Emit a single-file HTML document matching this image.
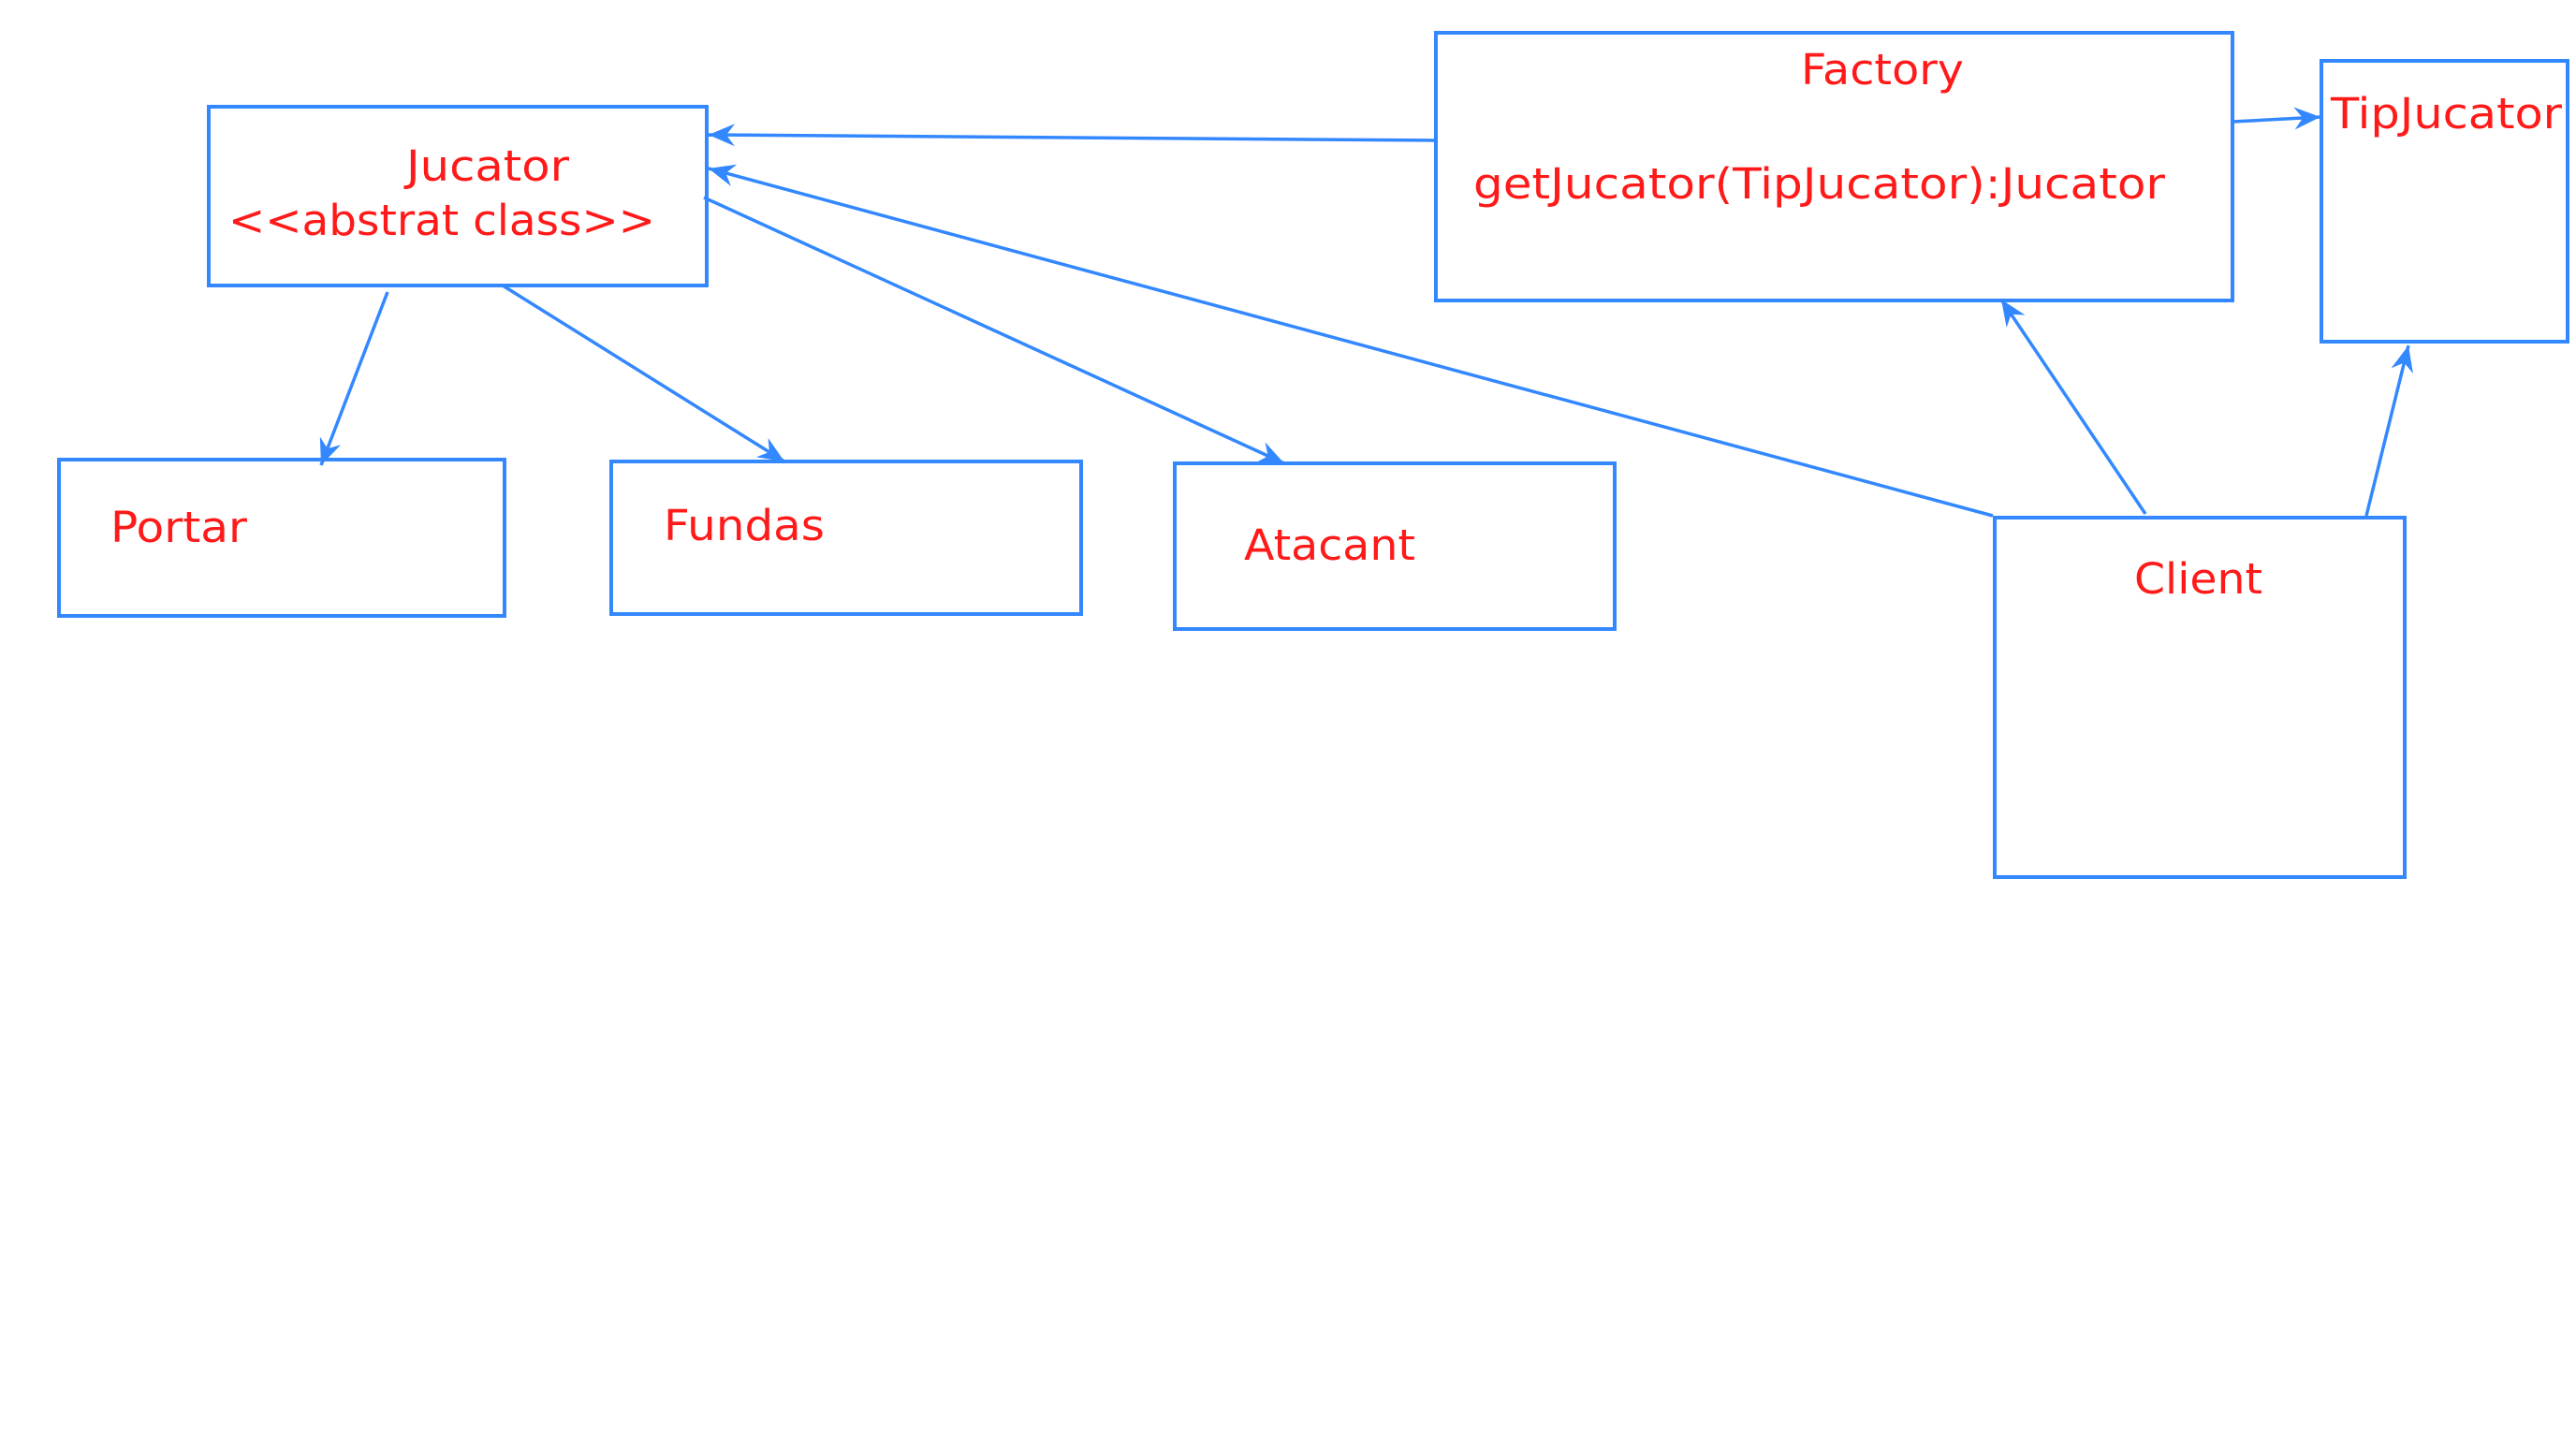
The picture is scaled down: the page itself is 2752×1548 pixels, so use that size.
<!DOCTYPE html>
<html><head><meta charset="utf-8"><style>
html,body{margin:0;padding:0;background:#fff;}
svg{display:block;}
text{font-family:"DejaVu Sans","Liberation Sans",sans-serif;font-size:45px;fill:#ff1a1a;}
</style></head><body>
<svg width="2752" height="1548" viewBox="0 0 2752 1548" xmlns="http://www.w3.org/2000/svg">
<defs>
<marker id="a" markerWidth="30" markerHeight="24" refX="28" refY="12" orient="auto" markerUnits="userSpaceOnUse">
<path d="M0,0 L28,12 L0,24 L9,12 Z" fill="#3388ff"/>
</marker>
</defs>
<g fill="none" stroke="#3388ff" stroke-width="4">
<rect x="223" y="114" width="532" height="191"/>
<rect x="63" y="491" width="476" height="167"/>
<rect x="653" y="493" width="502" height="163"/>
<rect x="1255" y="495" width="470" height="177"/>
<rect x="1534" y="35" width="851" height="286"/>
<rect x="2480" y="65" width="263" height="300"/>
<rect x="2131" y="553" width="438" height="384"/>
</g>
<g stroke="#3388ff" stroke-width="3.5" fill="none" marker-end="url(#a)">
<line x1="1534" y1="150" x2="757" y2="144"/>
<line x1="2129" y1="551" x2="757" y2="180"/>
<line x1="752" y1="211" x2="1372" y2="495"/>
<line x1="537" y1="305" x2="838" y2="493"/>
<line x1="414" y1="312" x2="343" y2="497"/>
<line x1="2292" y1="549" x2="2138" y2="320"/>
<line x1="2528" y1="551" x2="2573" y2="369"/>
<line x1="2385" y1="130" x2="2479" y2="125"/>
</g>
<text x="434" y="193" textLength="174" lengthAdjust="spacingAndGlyphs">Jucator</text>
<text x="244" y="251" textLength="456" lengthAdjust="spacingAndGlyphs">&lt;&lt;abstrat class&gt;&gt;</text>
<text x="118" y="579" textLength="146" lengthAdjust="spacingAndGlyphs">Portar</text>
<text x="709" y="577" textLength="172" lengthAdjust="spacingAndGlyphs">Fundas</text>
<text x="1329" y="598" textLength="183" lengthAdjust="spacingAndGlyphs">Atacant</text>
<text x="1924" y="90" textLength="174" lengthAdjust="spacingAndGlyphs">Factory</text>
<text x="1574" y="212" textLength="739" lengthAdjust="spacingAndGlyphs">getJucator(TipJucator):Jucator</text>
<text x="2490" y="137" textLength="247" lengthAdjust="spacingAndGlyphs">TipJucator</text>
<text x="2280" y="634" textLength="137" lengthAdjust="spacingAndGlyphs">Client</text>
</svg>
</body></html>
